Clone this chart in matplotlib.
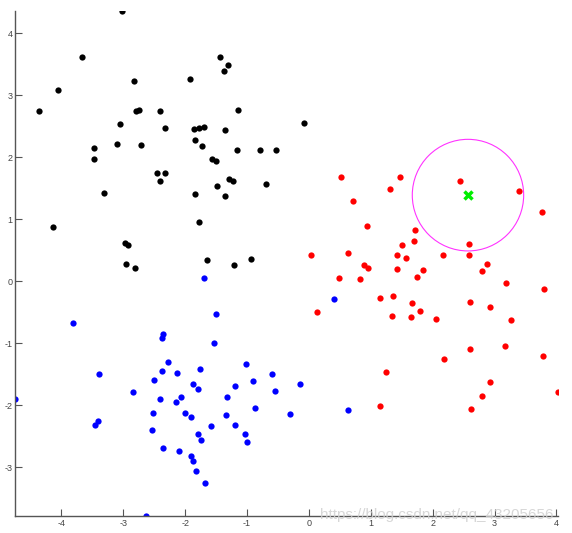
import numpy as np
import matplotlib
matplotlib.use("Agg")
import matplotlib.pyplot as plt
from matplotlib.patches import Circle

plt.rcParams['axes.unicode_minus'] = False
plt.rcParams['font.family'] = ['Liberation Sans', 'DejaVu Sans']

# class 1 (black)
black_x = [-3.02, -3.66, -4.06, -4.37, -2.83, -2.80, -2.75, -2.41, -3.05, -2.33,
           -3.47, -3.47, -3.11, -2.71, -3.31, -2.45, -2.33, -2.40, -4.13, -2.97,
           -2.92, -2.95, -2.81, -1.92, -1.43, -1.31, -1.38, -1.15, -1.85, -1.78,
           -1.69, -1.35, -1.84, -1.73, -1.16, -0.79, -0.53, -1.56, -1.51, -1.30,
           -1.22, -1.48, -0.70, -1.84, -1.35, -1.78, -1.64, -1.21, -0.94, -0.08]
black_y = [4.36, 3.62, 3.09, 2.75, 3.23, 2.74, 2.76, 2.75, 2.53, 2.47,
           2.15, 1.98, 2.21, 2.20, 1.42, 1.74, 1.74, 1.62, 0.88, 0.62,
           0.59, 0.28, 0.21, 3.27, 3.62, 3.49, 3.39, 2.77, 2.46, 2.47,
           2.49, 2.44, 2.28, 2.18, 2.11, 2.11, 2.11, 1.98, 1.94, 1.65,
           1.61, 1.53, 1.57, 1.41, 1.38, 0.95, 0.34, 0.26, 0.36, 2.55]

# class 2 (blue)
blue_x = [-1.69, -3.81, -1.51, -2.36, -2.37, -1.53, -2.28, -3.40, -2.37, -1.76,
          -2.13, -1.02, -2.50, -1.87, -1.80, -0.90, -0.60, -1.19, -0.55, -2.85,
          -4.75, -2.40, -2.06, -2.15, -1.32, -0.87, -2.52, -2.00, -1.90, -1.34,
          -0.30, -3.41, -3.45, -1.59, -1.19, -2.53, -1.80, -1.03, -1.75, -1.00,
          -2.36, -2.10, -1.91, -1.87, -1.82, -1.68, -2.63, 0.40, -0.15, 0.63]
blue_y = [0.06, -0.67, -0.52, -0.85, -0.91, -1.00, -1.30, -1.49, -1.45, -1.41,
          -1.48, -1.33, -1.59, -1.66, -1.73, -1.61, -1.50, -1.69, -1.77, -1.79,
          -1.89, -1.90, -1.87, -1.94, -1.87, -2.05, -2.12, -2.12, -2.19, -2.16,
          -2.14, -2.25, -2.31, -2.33, -2.31, -2.39, -2.46, -2.46, -2.56, -2.59,
          -2.69, -2.74, -2.82, -2.90, -3.06, -3.26, -3.79, -0.29, -1.65, -2.08]

# class 3 (red)
red_x = [0.52, 1.47, 1.31, 0.72, 2.44, 3.40, 3.77, 0.94, 1.72, 1.70,
         1.51, 2.58, 0.03, 0.63, 1.43, 2.17, 2.58, 0.89, 0.95, 1.57,
         2.88, 2.79, 1.43, 1.84, 0.49, 0.82, 1.75, 3.18, 3.80, 0.13,
         1.15, 1.36, 1.67, 2.61, 2.93, 1.35, 1.65, 1.80, 2.06, 3.27,
         2.61, 3.17, 3.79, 2.18, 1.24, 2.93, 2.80, 4.03, 1.15, 2.62]
red_y = [1.69, 1.68, 1.49, 1.30, 1.61, 1.45, 1.12, 0.90, 0.82, 0.65,
         0.58, 0.60, 0.42, 0.45, 0.43, 0.43, 0.43, 0.26, 0.21, 0.38,
         0.28, 0.17, 0.20, 0.18, 0.05, 0.03, 0.07, -0.02, -0.12, -0.50,
         -0.27, -0.24, -0.35, -0.33, -0.42, -0.56, -0.58, -0.48, -0.60, -0.62,
         -1.09, -1.05, -1.20, -1.26, -1.47, -1.63, -1.85, -1.78, -2.01, -2.06]

# test point and neighbourhood radius
test_x, test_y = 2.57, 1.39
radius = 0.9

xticks = [-4, -3, -2, -1, 0, 1, 2, 3, 4]
yticks = [-3, -2, -1, 0, 1, 2, 3, 4]

fig = plt.figure(figsize=(5.72, 5.33), dpi=100)
ax = fig.add_axes([0.0268, 0.0313, 0.9482, 0.9481])

ax.plot(black_x, black_y, 'o', color='k', markersize=4.5, markeredgewidth=0)
ax.plot(blue_x, blue_y, 'o', color='#0000ff', markersize=4.5, markeredgewidth=0)
ax.plot(red_x, red_y, 'o', color='#ff0000', markersize=4.5, markeredgewidth=0)
ax.add_patch(Circle((test_x, test_y), radius, fill=False,
                    edgecolor='#ff33ff', linewidth=0.8))
ax.plot(test_x, test_y, 'x', color='#00ee00', markersize=6, markeredgewidth=2.5)

ax.set_xlim(-4.745, 4.02)
ax.set_ylim(-3.79, 4.36)
ax.set_xticks(xticks)
ax.set_yticks(yticks)

for s in ['top', 'right']:
    ax.spines[s].set_visible(False)
for s in ['left', 'bottom']:
    ax.spines[s].set_color('#555555')
    ax.spines[s].set_linewidth(1.0)
ax.tick_params(direction='in', length=5, width=0.8, color='#555555',
               labelcolor='#444444', labelsize=6.5, pad=2)

# watermark
fig.text(0.559, 0.026, 'https://blog.csdn.net/qq_43205656', color='#d0d0d0',
         fontsize=11, alpha=0.85, ha='left', va='baseline')

fig.savefig('out.png', dpi=100)
